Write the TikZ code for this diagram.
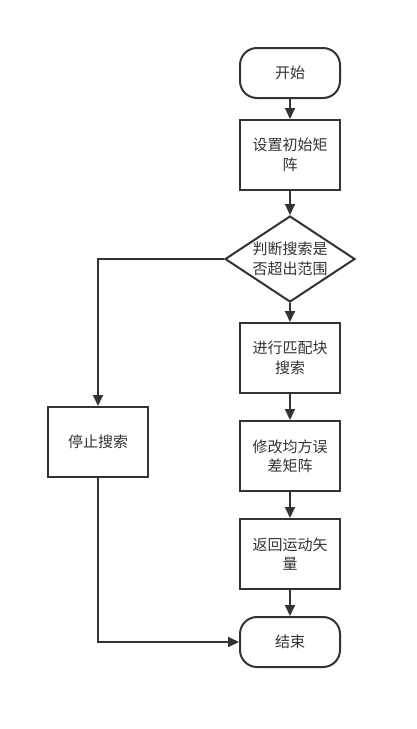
\documentclass[tikz,border=0pt]{standalone}
\usepackage{fontspec}
\newfontfamily\cjk{Noto Sans CJK SC}
\usetikzlibrary{shapes.geometric,arrows.meta}
\definecolor{ink}{HTML}{333333}
\begin{document}
\begin{tikzpicture}[x=1pt,y=-1pt,
  base/.style={draw=ink,line width=2pt,text=ink,font=\cjk\fontsize{15}{19.5}\selectfont,align=center,inner sep=0pt},
  procbox/.style={base,rectangle,minimum width=100pt,minimum height=70pt},
  termbox/.style={base,rectangle,rounded corners=17pt,minimum width=100pt,minimum height=50pt},
  decbox/.style={base,diamond,minimum width=130pt,minimum height=86pt},
  flow/.style={draw=ink,line width=2pt,-{Triangle[length=11pt,width=10pt]}}]
\useasboundingbox[fill=white] (0,0) rectangle (417,729);
\node[termbox] (start) at (290,73) {开始};
\node[procbox] (init) at (290,155) {设置初始矩\\阵};
\node[decbox] (dec) at (290,259) {};
\node[base,draw=none] at (dec.center) {判断搜索是\\否超出范围};
\node[procbox] (match) at (290,358) {进行匹配块\\搜索};
\node[procbox] (modify) at (290,456) {修改均方误\\差矩阵};
\node[procbox] (ret) at (290,554) {返回运动矢\\量};
\node[termbox] (end) at (290,642) {结束};
\node[procbox] (stop) at (98,442) {停止搜索};
\draw[flow] (start) -- (init);
\draw[flow] (init) -- (dec);
\draw[flow] (dec) -- (match);
\draw[flow] (match) -- (modify);
\draw[flow] (modify) -- (ret);
\draw[flow] (ret) -- (end);
\draw[flow] (dec.west) -| (stop.north);
\draw[flow] (stop.south) |- (end.west);
\end{tikzpicture}
\end{document}
